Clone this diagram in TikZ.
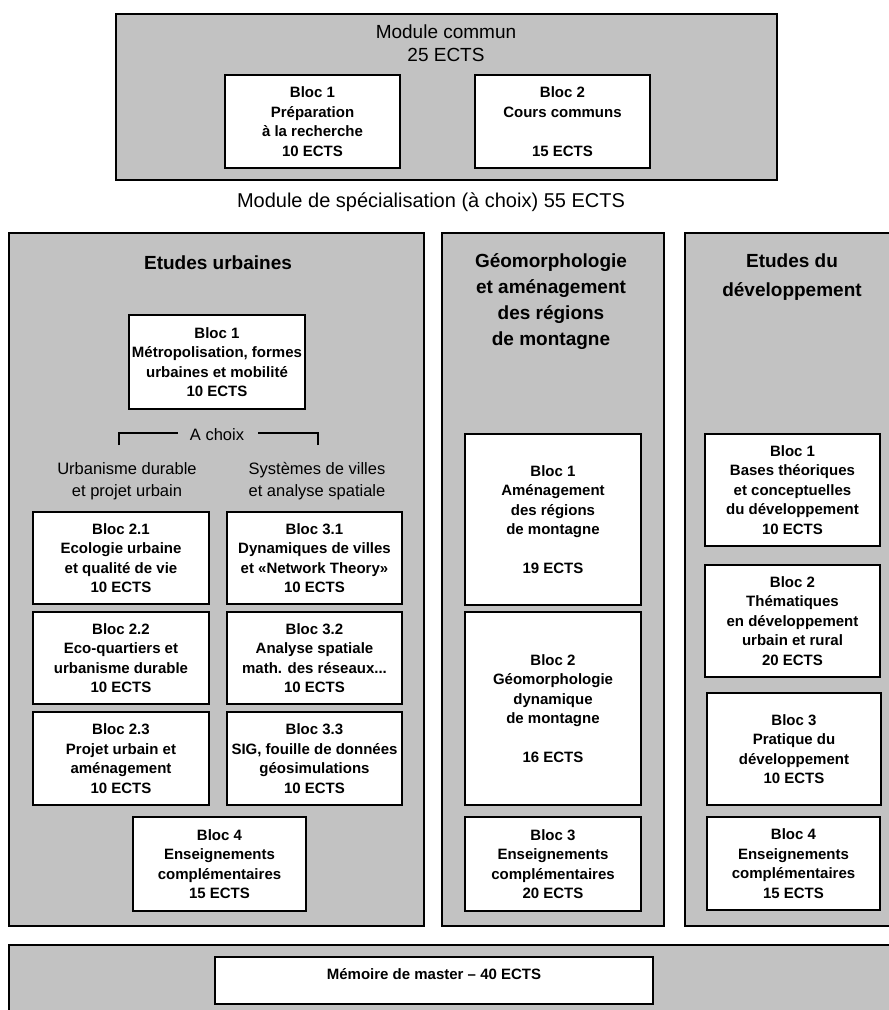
\documentclass[tikz,border=0pt]{standalone}
\usepackage{fontspec}
\setmainfont{Liberation Sans}
\definecolor{shade}{gray}{0.76}
\newcommand\bxfont{\bfseries\fontsize{15}{19.5}\selectfont}
\newcommand\ttlfont{\bfseries\fontsize{19}{26}\selectfont}
\newcommand\hdfont{\fontsize{19}{23}\selectfont}
\newcommand\spfont{\fontsize{20}{24}\selectfont}
\newcommand\sbfont{\fontsize{16.5}{21.5}\selectfont}
\begin{document}
\begin{tikzpicture}[x=1pt,y=-1pt,
  panel/.style={draw, line width=2.6pt, fill=shade, inner sep=0pt},
  blk/.style={draw, line width=2.4pt, fill=white, align=center, font=\bxfont, inner sep=0pt},
  ttl/.style={align=center, font=\ttlfont, inner sep=0pt},
  sub/.style={align=center, font=\sbfont, inner sep=0pt},
  brk/.style={line width=2pt}]
\useasboundingbox (0,0) rectangle (889,1010);
% top module
\node[panel, minimum width=661pt, minimum height=166pt] (top) at (446.5,97) {};
\node[align=center, font=\hdfont, inner sep=0pt] (toptitle) at (446,43.5) {Module commun\\25 ECTS};
\node[blk, minimum width=175pt, minimum height=93pt] (tb1) at (312.5,121.5) {Bloc 1\\Préparation\\à la recherche\\10 ECTS};
\node[blk, minimum width=175pt, minimum height=93pt] (tb2) at (562.5,121.5) {Bloc 2\\Cours communs\\[19.5pt]15 ECTS};
\node[font=\spfont, inner sep=0pt] (spec) at (431,202) {Module de spécialisation (à choix) 55 ECTS};
% panels
\node[panel, minimum width=415pt, minimum height=693pt] (pl) at (216.5,579.5) {};
\node[panel, minimum width=222pt, minimum height=693pt] (pm) at (553,579.5) {};
\node[panel, minimum width=210pt, minimum height=693pt] (pr) at (790,579.5) {};
\node[panel, minimum width=886pt, minimum height=70pt] (pb) at (452,980) {};
% left panel
\node[ttl] (tl) at (218,263) {Etudes urbaines};
\node[blk, minimum width=176pt, minimum height=94pt] (ub1) at (217,362) {Bloc 1\\Métropolisation, formes\\urbaines et mobilité\\10 ECTS};
\node[sub] (achoix) at (217,435) {A choix};
\coordinate (bl) at (119,445);
\coordinate (blt) at (178,433);
\coordinate (br) at (318,445);
\coordinate (brt) at (258,433);
\draw[brk] (bl) |- (blt);
\draw[brk] (br) |- (brt);
\node[sub] (urb) at (127,481) {Urbanisme durable\\et projet urbain};
\node[sub] (sys) at (317,481) {Systèmes de villes\\et analyse spatiale};
\node[blk, minimum width=176pt, minimum height=92pt] (b21) at (121,558) {Bloc 2.1\\Ecologie urbaine\\et qualité de vie\\10 ECTS};
\node[blk, minimum width=175pt, minimum height=92pt] (b31) at (314.5,558) {Bloc 3.1\\Dynamiques de villes\\et «Network Theory»\\10 ECTS};
\node[blk, minimum width=176pt, minimum height=92pt] (b22) at (121,658) {Bloc 2.2\\Eco-quartiers et\\urbanisme durable\\10 ECTS};
\node[blk, minimum width=175pt, minimum height=92pt] (b32) at (314.5,658) {Bloc 3.2\\Analyse spatiale\\math. des réseaux...\\10 ECTS};
\node[blk, minimum width=176pt, minimum height=93pt] (b23) at (121,758.5) {Bloc 2.3\\Projet urbain et\\aménagement\\10 ECTS};
\node[blk, minimum width=175pt, minimum height=93pt] (b33) at (314.5,758.5) {Bloc 3.3\\SIG, fouille de données\\géosimulations\\10 ECTS};
\node[blk, minimum width=173pt, minimum height=94pt] (ub4) at (219.5,864) {Bloc 4\\Enseignements\\complémentaires\\15 ECTS};
% middle panel
\node[ttl] (tm) at (551,302) {Géomorphologie\\et aménagement\\des régions\\de montagne};
\node[blk, minimum width=176pt, minimum height=171pt] (g1) at (553,519.5) {Bloc 1\\Aménagement\\des régions\\de montagne\\[19.5pt]19 ECTS};
\node[blk, minimum width=176pt, minimum height=193pt] (g2) at (553,708.5) {Bloc 2\\Géomorphologie\\dynamique\\de montagne\\[19.5pt]16 ECTS};
\node[blk, minimum width=176pt, minimum height=94pt] (g3) at (553,864) {Bloc 3\\Enseignements\\complémentaires\\20 ECTS};
% right panel
\node[ttl, font=\bfseries\fontsize{19}{29}\selectfont] (tr) at (792,277.5) {Etudes du\\développement};
\node[blk, minimum width=175pt, minimum height=112pt] (d1) at (792.5,490) {Bloc 1\\Bases théoriques\\et conceptuelles\\du développement\\10 ECTS};
\node[blk, minimum width=175pt, minimum height=112pt] (d2) at (792.5,621) {Bloc 2\\Thématiques\\en développement\\urbain et rural\\20 ECTS};
\node[blk, minimum width=174pt, minimum height=112pt] (d3) at (794,749) {Bloc 3\\Pratique du\\développement\\10 ECTS};
\node[blk, minimum width=173pt, minimum height=93pt] (d4) at (793.5,863.5) {Bloc 4\\Enseignements\\complémentaires\\15 ECTS};
% bottom
\node[blk, minimum width=438pt, minimum height=47pt, text depth=14pt] (mem) at (434,980.5) {Mémoire de master – 40 ECTS};
\end{tikzpicture}
\end{document}
